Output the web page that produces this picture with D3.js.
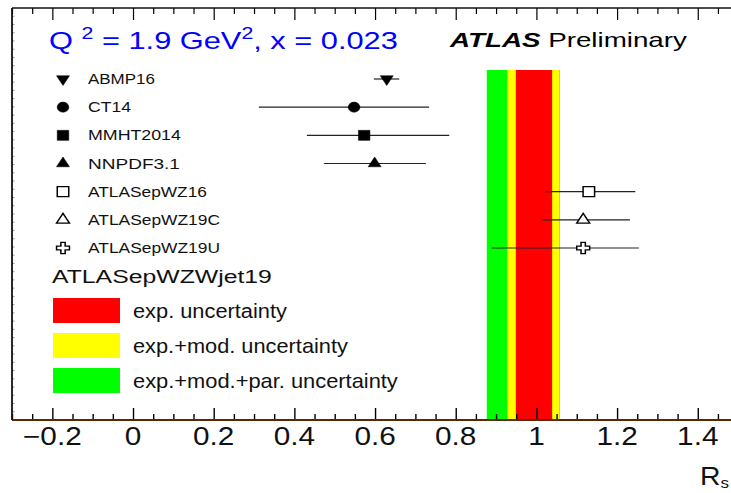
<!DOCTYPE html>
<html>
<head>
<meta charset="utf-8">
<script src="https://cdn.jsdelivr.net/npm/d3@7"></script>
<style>
  body { margin: 0; background: #fff; }
  svg { display: block; font-family: "Liberation Sans", Arial, Helvetica, sans-serif; }
</style>
</head>
<body>
<svg id="chart" width="731" height="493"></svg>
<script>
// Strangeness ratio R_s at Q^2 = 1.9 GeV^2, x = 0.023 for several PDF sets
const pdfSets      = ["ABMP16", "CT14", "MMHT2014", "NNPDF3.1", "ATLASepWZ16", "ATLASepWZ19C", "ATLASepWZ19U"];
const centralValue = [0.629, 0.548, 0.573, 0.599, 1.130, 1.116, 1.116];
const errLow       = [0.597, 0.312, 0.431, 0.473, 1.022, 1.013, 0.889];
const errHigh      = [0.660, 0.734, 0.784, 0.726, 1.245, 1.232, 1.254];
const markerKinds  = ["triangleDown", "circle", "square", "triangleUp", "openSquare", "openTriangle", "openCross"];

// ATLASepWZWjet19 result bands, listed from inner to outer
const bandLabels = ["exp. uncertainty", "exp.+mod. uncertainty", "exp.+mod.+par. uncertainty"];
const bandLow    = [0.949, 0.928, 0.877];
const bandHigh   = [1.039, 1.057, 1.058];

const xTickValues = [-0.2, 0, 0.2, 0.4, 0.6, 0.8, 1, 1.2, 1.4];

const bandColors = ["#ff0000", "#ffff00", "#00ff00"];

const svg = d3.select("#chart");

// frame geometry
const frame = { left: 12, top: 8, bottom: 420 };
const x = d3.scaleLinear().domain([-0.3, 1.5]).range([frame.left, 738.1]);
const y = d3.scalePoint().domain(pdfSets).range([79, 248]);
const bandTop = 70;

// Draws a text item at (x0, y0) and stretches it horizontally to the given width
function fitText(parent, x0, y0, width, size, build, anchor) {
  const t = parent.append("text")
    .attr("x", 0).attr("y", 0)
    .attr("font-size", size)
    .attr("text-anchor", anchor || "start");
  build(t);
  const w = t.node().getComputedTextLength();
  t.attr("transform", `translate(${x0},${y0}) scale(${width / w},1)`);
  return t;
}

// ---- uncertainty bands (outer first) ----
const bands = d3.range(bandLabels.length).reverse();
svg.append("g").selectAll("rect").data(bands).join("rect")
  .attr("x", i => x(bandLow[i]))
  .attr("width", i => x(bandHigh[i]) - x(bandLow[i]))
  .attr("y", bandTop)
  .attr("height", frame.bottom - bandTop)
  .attr("fill", i => bandColors[i]);

// ---- frame and axes ----
const minorTicks = d3.range(-0.3, 1.5001, 0.05).map(v => +v.toFixed(2))
  .filter(v => !xTickValues.some(m => Math.abs(m - v) < 1e-6));

// top axis (ticks only)
const topAxis = svg.append("g").attr("transform", `translate(0,${frame.top})`);
topAxis.append("g")
  .call(d3.axisTop(x).tickValues(xTickValues).tickSize(-12).tickFormat(""))
  .call(g => g.select(".domain").remove());
topAxis.append("g")
  .call(d3.axisTop(x).tickValues(minorTicks).tickSize(-6).tickFormat(""))
  .call(g => g.select(".domain").remove());
topAxis.selectAll(".tick line").attr("stroke", "#000").attr("stroke-width", 1.2);
topAxis.append("line")
  .attr("x1", frame.left).attr("x2", 731).attr("y1", 0).attr("y2", 0)
  .attr("stroke", "#111").attr("stroke-width", 1.6);

// bottom axis
const bottomAxis = svg.append("g").attr("transform", `translate(0,${frame.bottom})`);
bottomAxis.append("g")
  .call(d3.axisBottom(x).tickValues(minorTicks).tickSize(-6).tickFormat(""))
  .call(g => g.select(".domain").remove());
const majorG = bottomAxis.append("g")
  .call(d3.axisBottom(x).tickValues(xTickValues).tickSize(-12))
  .call(g => g.select(".domain").remove());
bottomAxis.selectAll(".tick line").attr("stroke", "#000").attr("stroke-width", 1.4);
majorG.selectAll(".tick text").remove();
bottomAxis.append("line")
  .attr("x1", frame.left).attr("x2", 731).attr("y1", 0).attr("y2", 0)
  .attr("stroke", "#5a2a08").attr("stroke-width", 2);

const tickFmt = d3.format("");
const tickLabels = svg.append("g");
xTickValues.forEach(v => {
  const t = tickLabels.append("text")
    .attr("x", 0).attr("y", 0)
    .attr("font-size", 25)
    .attr("text-anchor", "middle")
    .attr("fill", "#111")
    .text(tickFmt(v));
  t.attr("transform", `translate(${x(v)},445) scale(1.19,1)`);
});

// left frame with fine ticks
const yFrame = d3.scaleLinear().domain([0, 50]).range([frame.bottom, frame.top]);
svg.append("g").selectAll("line").data(d3.range(1, 50)).join("line")
  .attr("x1", frame.left).attr("x2", frame.left + 2.5)
  .attr("y1", d => yFrame(d)).attr("y2", d => yFrame(d))
  .attr("stroke", "#9a9a9a").attr("stroke-width", 1);
svg.append("line")
  .attr("x1", frame.left).attr("x2", frame.left)
  .attr("y1", frame.top).attr("y2", frame.bottom)
  .attr("stroke", "#111").attr("stroke-width", 1.8);

// axis title
fitText(svg, 700, 485, 29, 25, t => {
  t.attr("fill", "#111");
  t.append("tspan").text("R");
  t.append("tspan").attr("font-size", 15).attr("dy", 3).text("s");
});

// ---- markers ----
function markerPath(kind) {
  const sym = d3.symbol();
  if (kind === "circle") return sym.type(d3.symbolCircle).size(80)();
  if (kind === "square" || kind === "openSquare") return sym.type(d3.symbolSquare).size(100)();
  if (kind === "openCross") return sym.type(d3.symbolCross).size(70)();
  return sym.type(d3.symbolTriangle).size(55)();
}
function drawMarker(g, kind, cx, cy) {
  const open = kind.startsWith("open");
  const rot = kind === "triangleDown" ? " rotate(180)" : "";
  g.append("path")
    .attr("d", markerPath(kind))
    .attr("transform", `translate(${cx},${cy}) scale(1.15,1)${rot}`)
    .attr("fill", open ? "#fff" : "#000")
    .attr("stroke", "#000")
    .attr("stroke-width", open ? 1.3 : 0.5);
}

const points = svg.append("g");
pdfSets.forEach((name, i) => {
  points.append("line")
    .attr("x1", x(errLow[i])).attr("x2", x(errHigh[i]))
    .attr("y1", y(name)).attr("y2", y(name))
    .attr("stroke", "#222").attr("stroke-width", 1.2);
});
pdfSets.forEach((name, i) => drawMarker(points, markerKinds[i], x(centralValue[i]), y(name)));

// ---- legend of PDF sets ----
const legend = svg.append("g");
const labelWidths = { "ABMP16": 67, "CT14": 43, "MMHT2014": 93, "NNPDF3.1": 92, "ATLASepWZ16": 119, "ATLASepWZ19C": 132, "ATLASepWZ19U": 132 };
pdfSets.forEach((name, i) => {
  drawMarker(legend, markerKinds[i], 63, y(name));
  fitText(legend, 88, y(name) + 5, labelWidths[name], 14.5, t => t.attr("fill", "#111").text(name));
});

// ---- band legend ----
fitText(legend, 52, 283, 220, 19, t => t.attr("fill", "#111").text("ATLASepWZWjet19"));
const boxTops = [298, 333, 368];
const bandTextWidths = [154, 215, 265];
bandLabels.forEach((label, i) => {
  legend.append("rect")
    .attr("x", 53).attr("y", boxTops[i])
    .attr("width", 67).attr("height", 25)
    .attr("fill", bandColors[i]);
  fitText(legend, 133, boxTops[i] + 20, bandTextWidths[i], 20, t => t.attr("fill", "#111").text(label));
});

// ---- headers ----
fitText(svg, 49, 49, 349, 24.5, t => {
  t.attr("fill", "#0000ff");
  t.append("tspan").text("Q ");
  t.append("tspan").attr("font-size", 17).attr("dy", -10).text("2");
  t.append("tspan").attr("dy", 10).text(" = 1.9 GeV");
  t.append("tspan").attr("font-size", 17).attr("dy", -10).text("2");
  t.append("tspan").attr("dy", 10).text(", x = 0.023");
});
fitText(svg, 450, 47, 237, 20.5, t => {
  t.attr("fill", "#000");
  t.append("tspan").attr("font-weight", "bold").attr("font-style", "italic").text("ATLAS");
  t.append("tspan").text(" Preliminary");
});
</script>
</body>
</html>
